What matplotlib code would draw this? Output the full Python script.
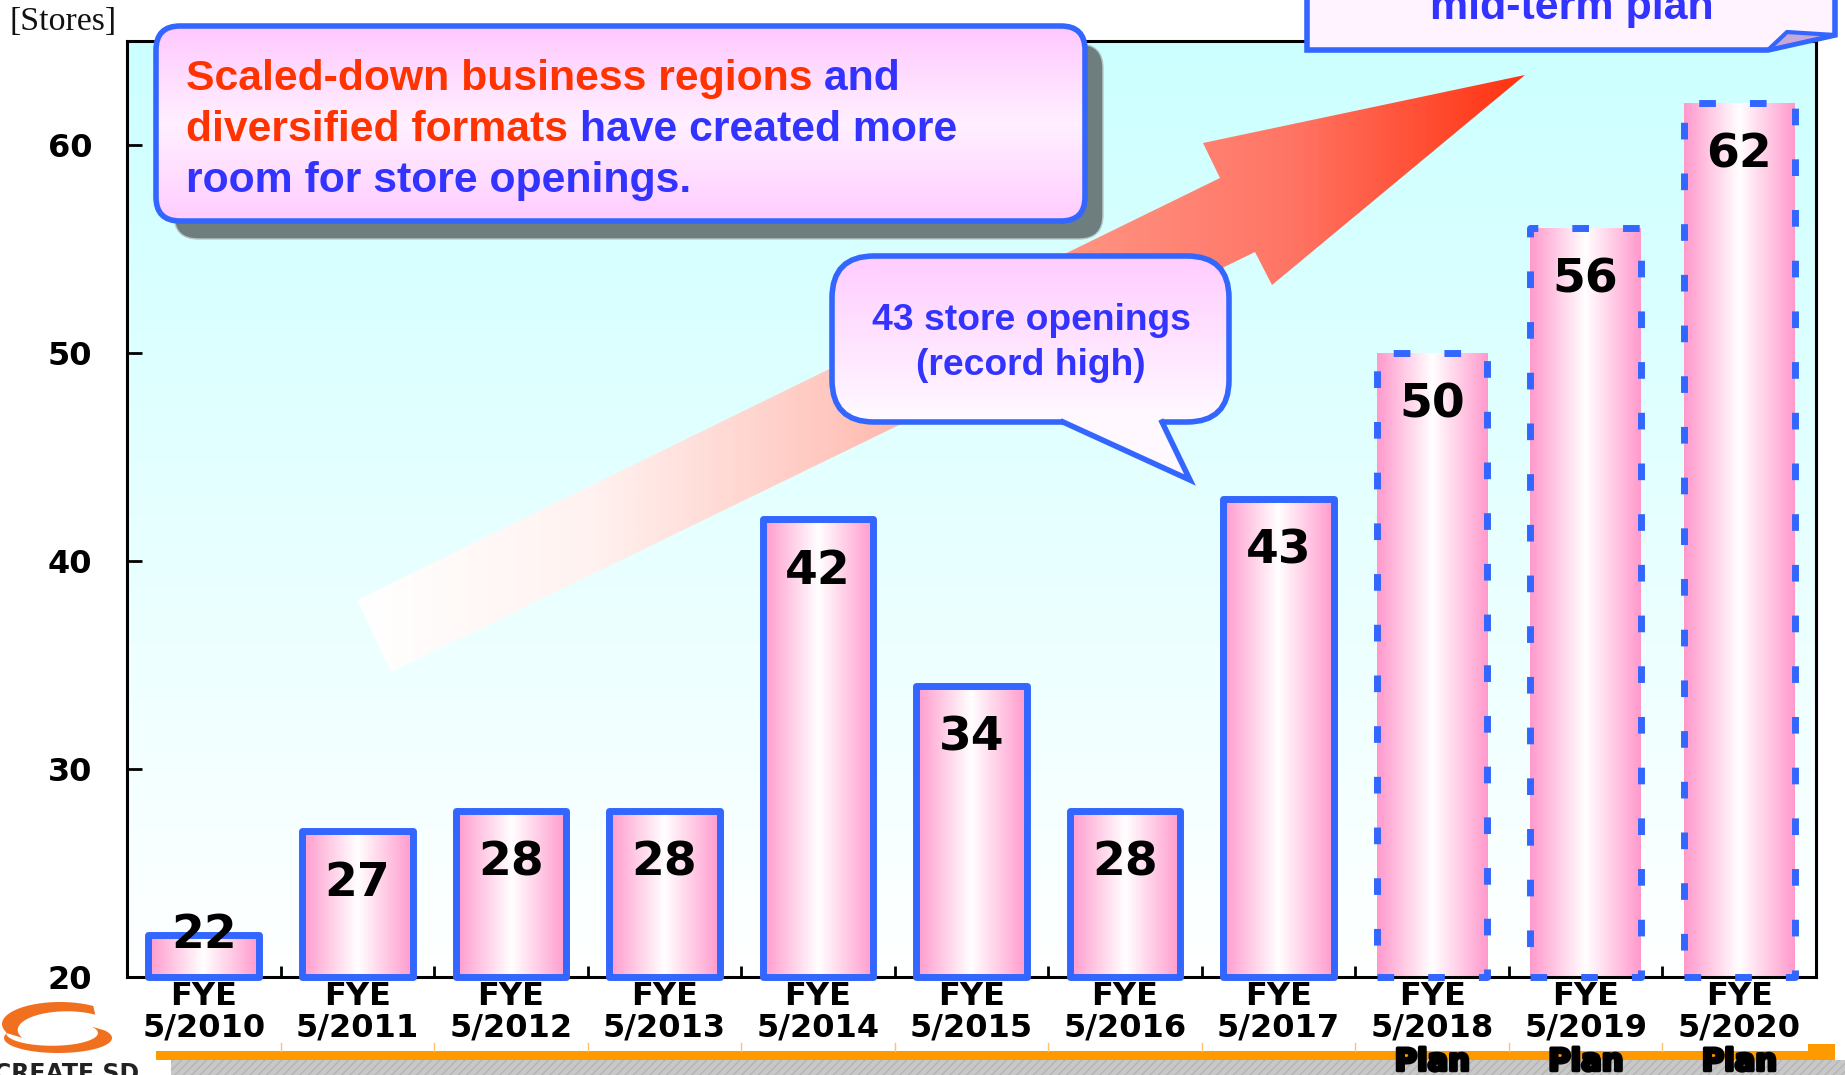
# store_openings_chart.py

import numpy as np
import matplotlib.pyplot as plt
import matplotlib.patheffects as pe
from matplotlib.colors import LinearSegmentedColormap
from matplotlib.patches import Rectangle, FancyBboxPatch, Polygon
from matplotlib.lines import Line2D
from matplotlib.transforms import blended_transform_factory

# Chart data
fiscal_years = ['5/2010', '5/2011', '5/2012', '5/2013', '5/2014', '5/2015',
                '5/2016', '5/2017', '5/2018', '5/2019', '5/2020']
store_openings = [22, 27, 28, 28, 42, 34, 28, 43, 50, 56, 62]
plan_flags = [False] * 8 + [True] * 3
y_ticks = [20, 30, 40, 50, 60]

# Colours
EDGE_BLUE = '#3366ff'
TEXT_BLUE = '#3333ff'
TEXT_RED = '#ff3300'

# Annotation texts
unit_label = '[Stores]'
headline = [
    [('Scaled-down business regions', TEXT_RED), (' and', TEXT_BLUE)],
    [('diversified formats', TEXT_RED), (' have created more', TEXT_BLUE)],
    [('room for store openings.', TEXT_BLUE)],
]
callout_lines = ['43 store openings', '(record high)']
plan_box_text = 'mid-term plan'

W, H = 1845, 1075


def gradient_fill(axis, patch, colors, vertical=True, zorder=1):
    """Add a patch and fill it with a linear colour gradient."""
    patch.set_zorder(zorder + 0.1)
    axis.add_patch(patch)
    ext = patch.get_path().get_extents()
    cmap = LinearSegmentedColormap.from_list('g', colors)
    grad = np.linspace(0, 1, 256)
    grad = grad.reshape(-1, 1) if vertical else grad.reshape(1, -1)
    im = axis.imshow(grad, cmap=cmap, origin='upper', aspect='auto',
                     extent=[ext.x0, ext.x1, ext.y1, ext.y0],
                     interpolation='bilinear', zorder=zorder)
    im.set_clip_path(patch)
    return im


def crescent(cx, cy, rx, ry, t0, t1, dx, dy, shrink, **kw):
    """Crescent-shaped polygon between two offset ellipse arcs (for the logo)."""
    t = np.radians(np.linspace(t0, t1, 60))
    outer = np.c_[cx + rx * np.cos(t), cy - ry * np.sin(t)]
    ti = t[::-1]
    inner = np.c_[cx + dx + rx * shrink * np.cos(ti), cy + dy - ry * shrink * np.sin(ti)]
    return Polygon(np.vstack([outer, inner]), closed=True, **kw)


def draw_bars(ax):
    """Pink gradient columns with blue outlines (dashed for plan years)."""
    x = np.arange(len(store_openings))
    bar_w = 0.72
    pink = LinearSegmentedColormap.from_list('pink', ['#ff99cc', '#ffffff', '#ff99cc'])
    grad = np.linspace(0, 1, 256).reshape(1, -1)
    for xi, v, plan in zip(x, store_openings, plan_flags):
        ax.imshow(grad, cmap=pink, aspect='auto', interpolation='bilinear',
                  extent=[xi - bar_w / 2, xi + bar_w / 2, 20, v], zorder=2)
        ls = (0, (2.4, 4.9)) if plan else '-'
        ax.add_patch(Rectangle((xi - bar_w / 2, 20), bar_w, v - 20, fill=False,
                               ec=EDGE_BLUE, lw=5, ls=ls, joinstyle='round',
                               zorder=3, clip_on=False))
        # value label sits inside the bar, or on top of it when the bar is short
        ly = v - 2.5 if v - 2.5 > 21 else v
        ax.text(xi, ly, str(v), ha='center', va='center', fontsize=34,
                fontweight='bold', color='black', zorder=4)


def style_axes(ax):
    """Ticks, labels and the cyan background of the plot area."""
    bg = LinearSegmentedColormap.from_list('bg', ['#ccffff', '#ffffff'])
    ax.imshow(np.linspace(0, 1, 256).reshape(-1, 1), cmap=bg, origin='upper',
              aspect='auto', extent=[0, 1, 0, 1], transform=ax.transAxes, zorder=0)
    x = np.arange(len(store_openings))
    ax.set_xlim(-0.5, len(store_openings) - 0.5)
    ax.set_ylim(20, 65)
    ax.set_yticks(y_ticks)
    ax.set_yticklabels([str(t) for t in y_ticks], fontsize=23, fontweight='bold')
    ax.tick_params(axis='y', direction='in', length=11, width=2, pad=25)
    ax.set_xticks(x)
    ax.set_xticklabels([f'FYE\n{fy}' for fy in fiscal_years], fontsize=23,
                       fontweight='bold', linespacing=1.0)
    ax.tick_params(axis='x', which='major', length=0, pad=3)
    ax.set_xticks(x[:-1] + 0.5, minor=True)
    ax.tick_params(axis='x', which='minor', direction='in', length=8, width=2)
    for s in ax.spines.values():
        s.set_linewidth(2.2)


def draw_background(fig):
    """Faint cyan wash in the lower-left margin of the slide."""
    bga = fig.add_axes([0, 0, 1, 1], zorder=-1)
    bga.axis('off')
    wash = Rectangle((0, 420), 127, 580, fc='none', ec='none')
    gradient_fill(bga, wash, ['#ffffff', '#ecfdfd'], zorder=0)
    bga.set_xlim(0, W)
    bga.set_ylim(H, 0)


def draw_overlay(fig, ax):
    """Callouts, the growth arrow and slide decorations in pixel coordinates."""
    ov = fig.add_axes([0, 0, 1, 1], zorder=5)
    ov.patch.set_alpha(0)
    ov.axis('off')

    # growth arrow: white tail fading to red head
    arrow = Polygon([(357, 600), (1220, 178), (1203, 143), (1525, 75),
                     (1272, 285), (1255, 252), (391, 672)], closed=True,
                    fc='none', ec='none')
    gradient_fill(ov, arrow, ['#ffffff', '#fff2f0', '#ffc8c0', '#ff9585',
                              '#ff7565', '#ff3311'], vertical=False, zorder=1)

    # headline box with shadow
    ov.add_patch(FancyBboxPatch((174, 44), 929, 195,
                                boxstyle='round,pad=0,rounding_size=24',
                                fc='#6e7e7e', ec='#b8c8c8', lw=1, zorder=2))
    box = FancyBboxPatch((156, 26), 929, 195, boxstyle='round,pad=0,rounding_size=24',
                         fc='none', ec=EDGE_BLUE, lw=4)
    gradient_fill(ov, box, ['#ffc8ff', '#fff0ff', '#ffccff'], zorder=3)
    for i, parts in enumerate(headline):
        t = ov.text(186, 90 + 51 * i, parts[0][0], color=parts[0][1], va='baseline',
                    fontsize=30.8, fontweight='bold', family='Liberation Sans', zorder=4)
        for s, c in parts[1:]:
            t = ov.annotate(s, xy=(1, 0), xycoords=t, va='bottom', color=c,
                            fontsize=30.8, fontweight='bold', family='Liberation Sans',
                            zorder=4)

    # record-high speech bubble
    bubble = FancyBboxPatch((832, 256), 397, 166, boxstyle='round,pad=0,rounding_size=42',
                            fc='none', ec=EDGE_BLUE, lw=4)
    gradient_fill(ov, bubble, ['#ffccff', '#fffaff'], zorder=5)
    ov.add_patch(Polygon([(1063, 416), (1063, 422), (1190, 480), (1162, 422), (1162, 416)],
                         closed=True, fc='#fff9ff', ec='none', zorder=5.5))
    ov.add_line(Line2D([1063, 1190, 1162], [422, 480, 422], color=EDGE_BLUE, lw=4,
                       solid_joinstyle='miter', zorder=5.6))
    for i, line in enumerate(callout_lines):
        ov.text(1031, 330 + 45 * i, line, ha='center', va='baseline', fontsize=26.8,
                fontweight='bold', color=TEXT_BLUE, family='Liberation Sans', zorder=6)

    # mid-term plan box cut by the top of the slide
    ov.add_patch(Polygon([(1307, -20), (1307, 50), (1768, 50), (1835, 35), (1835, -20)],
                         closed=True, fc='#fff3ff', ec=EDGE_BLUE, lw=4, zorder=7))
    ov.add_patch(Polygon([(1768, 50), (1787, 32), (1835, 35)], closed=True,
                         fc='#c8a8d8', ec=EDGE_BLUE, lw=3, joinstyle='round', zorder=7.1))
    ov.text(1572, 19, plan_box_text, ha='center', va='baseline', fontsize=31,
            fontweight='bold', color=TEXT_BLUE, family='Liberation Sans', zorder=7.2)

    # unit label
    ov.text(9, 22, unit_label, ha='left', va='center', fontsize=24.4,
            family='Liberation Serif', color='#111111')

    # slide footer: orange rule, grey strip, cell marks and the "Plan" rows
    ov.add_patch(Rectangle((156, 1051), W - 10 - 156, 9, fc='#ff9900', ec='none', zorder=1))
    ov.add_patch(Rectangle((1808, 1044), 27, 16, fc='#ff9900', ec='none', zorder=1))
    ov.add_patch(Rectangle((171, 1060), W - 171, 20, fc='#c8c8c8', ec='#b4b4b4',
                           lw=0, hatch='////', zorder=1))
    blend = blended_transform_factory(ax.transData, ov.transData)
    xs = np.arange(len(store_openings))
    for b in xs[:-1] + 0.5:
        ov.add_line(Line2D([b, b], [1043, 1051], transform=blend, color='#ffc070',
                           lw=1, zorder=1.5))
    for xi, plan in zip(xs, plan_flags):
        if plan:
            ov.text(xi, 1062, 'Plan', transform=blend, ha='center', va='center',
                    fontsize=22, fontweight='bold', color='black', zorder=3,
                    path_effects=[pe.withStroke(linewidth=2.5, foreground='black')])

    # company logo (orange swoosh) in the corner
    ov.add_patch(crescent(60, 1024, 58, 22, 55, 205, 7, 6, 0.85,
                          fc='#f07020', ec='none', zorder=2))
    ov.add_patch(crescent(58, 1038, 54, 15, 160, 390, -6, -5, 0.85,
                          fc='#f07020', ec='none', zorder=2))
    ov.text(-6, 1062, 'CREATE SD', ha='left', va='top', fontsize=17,
            fontweight='bold', color='#222222', zorder=2)

    ov.set_xlim(0, W)
    ov.set_ylim(H, 0)
    return ov


def plot_chart():
    fig = plt.figure(figsize=(W / 100, H / 100), dpi=100)
    fig.patch.set_facecolor('white')
    draw_background(fig)
    ax = fig.add_axes([127 / W, 1 - 977 / H, (1816 - 127) / W, (977 - 41) / H])
    draw_bars(ax)
    style_axes(ax)
    draw_overlay(fig, ax)
    fig.savefig('out.png', dpi=100)


if __name__ == "__main__":
    plot_chart()
